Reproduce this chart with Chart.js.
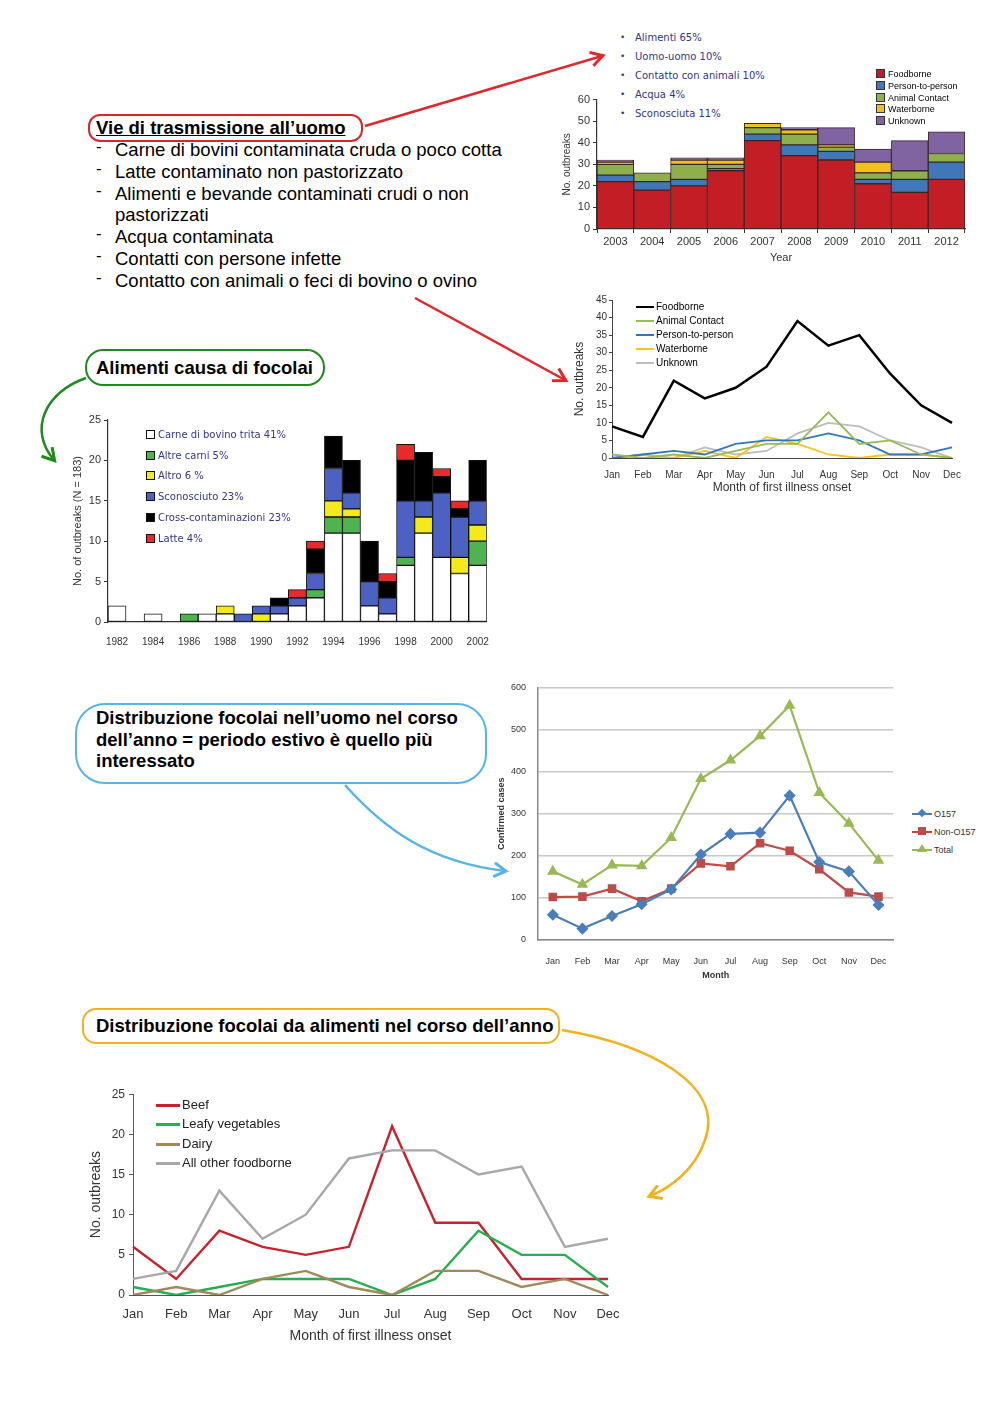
<!DOCTYPE html>
<html>
<head>
<meta charset="utf-8">
<script src="https://cdn.jsdelivr.net/npm/chart.js@4.4.1/dist/chart.umd.min.js"></script>
<style>
  body { margin: 0; width: 1000px; height: 1415px; position: relative; background: #fff; overflow: hidden;
         font-family: "Liberation Sans", Arial, sans-serif; color: #000; }
  .abs { position: absolute; }
  .box { position: absolute; box-sizing: border-box; }
  .head { font-weight: bold; font-size: 18.5px; line-height: 21.5px; white-space: nowrap; }
  .list { font-size: 18.5px; line-height: 21.8px; }
  .list div { position: relative; padding-left: 19px; white-space: nowrap; }
  .list div span.d { position: absolute; left: 0; top: -3px; font-size: 17px; }
  .bul { font-family: "DejaVu Sans", Verdana, sans-serif; font-size: 10px; color: #35358a; line-height: 19px; }
  .bul div { position: relative; padding-left: 15px; }
  .bul div::before { content: "•"; position: absolute; left: 0; font-size: 9px; }
  .leg div { position: relative; white-space: nowrap; }
  .chartbox { position: absolute; }
</style>
</head>
<body>

<!-- callouts and text -->
<div class="box" style="left:88px;top:114px;width:275px;height:28px;border:2.5px solid #d8262a;border-radius:12px;"></div>
<div class="abs head" style="left:96px;top:117px;text-decoration:underline;">Vie di trasmissione all’uomo</div>
<div class="abs list" style="left:96px;top:139px;width:440px;">
  <div><span class="d">-</span>Carne di bovini contaminata cruda o poco cotta</div>
  <div><span class="d">-</span>Latte contaminato non pastorizzato</div>
  <div><span class="d">-</span>Alimenti e bevande contaminati crudi o non</div>
  <div>pastorizzati</div>
  <div><span class="d">-</span>Acqua contaminata</div>
  <div><span class="d">-</span>Contatti con persone infette</div>
  <div><span class="d">-</span>Contatto con animali o feci di bovino o ovino</div>
</div>

<div class="box" style="left:85px;top:349px;width:240px;height:37px;border:2.5px solid #1f8a1f;border-radius:18px;"></div>
<div class="abs head" style="left:96px;top:357px;">Alimenti causa di focolai</div>

<div class="box" style="left:75px;top:703px;width:412px;height:81px;border:2.5px solid #56b4ea;border-radius:30px;"></div>
<div class="abs head" style="left:96px;top:707px;">Distribuzione focolai nell’uomo nel corso<br>dell’anno = periodo estivo è quello più<br>interessato</div>

<div class="box" style="left:82px;top:1008px;width:478px;height:36px;border:2.5px solid #f2b21b;border-radius:14px;"></div>
<div class="abs head" style="left:96px;top:1015px;">Distribuzione focolai da alimenti nel corso dell’anno</div>

<div class="abs bul" style="left:620px;top:28px;">
  <div>Alimenti 65%</div>
  <div>Uomo-uomo 10%</div>
  <div>Contatto con animali 10%</div>
  <div>Acqua 4%</div>
  <div>Sconosciuta 11%</div>
</div>

<!-- charts -->
<div class="chartbox" style="left:555px;top:90px;width:420px;height:175px;"><canvas id="c1"></canvas></div>
<div class="abs leg" id="leg1" style="left:876px;top:69px;font-size:9px;line-height:11.8px;"></div>

<div class="chartbox" style="left:570px;top:290px;width:395px;height:205px;"><canvas id="c2"></canvas></div>
<div class="abs leg" id="leg2" style="left:636px;top:300px;font-size:10px;line-height:14px;"></div>

<div class="chartbox" style="left:65px;top:410px;width:430px;height:240px;"><canvas id="c3"></canvas></div>
<div class="abs leg" id="leg3" style="left:146px;top:425px;font-family:'DejaVu Sans',Verdana,sans-serif;font-size:10px;line-height:20.7px;color:#35358a;"></div>

<div class="chartbox" style="left:490px;top:670px;width:410px;height:315px;"><canvas id="c4"></canvas></div>
<div class="abs leg" id="leg4" style="left:912px;top:805px;font-size:9px;line-height:18px;color:#333;"></div>

<div class="chartbox" style="left:80px;top:1083px;width:545px;height:262px;"><canvas id="c5"></canvas></div>
<div class="abs leg" id="leg5" style="left:156px;top:1095px;font-size:13px;line-height:19.3px;color:#222;"></div>

<!-- arrows -->
<svg class="abs" style="left:0;top:0;" width="1000" height="1415">
  <defs>
    <marker id="hr" markerWidth="16" markerHeight="16" refX="12" refY="8" orient="auto" markerUnits="userSpaceOnUse">
      <path d="M1,1 L13,8 L1,15" fill="none" stroke="#e3262a" stroke-width="3"/></marker>
    <marker id="hg" markerWidth="16" markerHeight="16" refX="12" refY="8" orient="auto" markerUnits="userSpaceOnUse">
      <path d="M1,1 L13,8 L1,15" fill="none" stroke="#1f8a1f" stroke-width="3"/></marker>
    <marker id="hb" markerWidth="16" markerHeight="16" refX="12" refY="8" orient="auto" markerUnits="userSpaceOnUse">
      <path d="M1,1 L13,8 L1,15" fill="none" stroke="#56b4ea" stroke-width="3"/></marker>
    <marker id="ho" markerWidth="16" markerHeight="16" refX="12" refY="8" orient="auto" markerUnits="userSpaceOnUse">
      <path d="M1,1 L13,8 L1,15" fill="none" stroke="#f2b21b" stroke-width="3"/></marker>
  </defs>
  <path d="M365,126 L602,56" stroke="#e3262a" stroke-width="2.5" fill="none" marker-end="url(#hr)"/>
  <path d="M415,298 L565,380" stroke="#e3262a" stroke-width="2.5" fill="none" marker-end="url(#hr)"/>
  <path d="M86,378 C45,392 28,430 54,460" stroke="#1f8a1f" stroke-width="2.5" fill="none" marker-end="url(#hg)"/>
  <path d="M345,785 C385,830 430,862 505,871" stroke="#56b4ea" stroke-width="2.5" fill="none" marker-end="url(#hb)"/>
  <path d="M562,1030 C650,1045 725,1085 705,1140 C695,1170 670,1188 650,1196" stroke="#f2b21b" stroke-width="2.5" fill="none" marker-end="url(#ho)"/>
</svg>

<script>
// ---- chart 1: outbreaks by transmission route and year
const years1 = ['2003', '2004', '2005', '2006', '2007', '2008', '2009', '2010', '2011', '2012'];
const foodborne1 = [22, 18, 20, 27, 41, 34, 32, 21, 17, 23];
const personToPerson1 = [3, 4, 3, 1, 3, 5, 4, 2, 6, 8];
const animalContact1 = [5, 4, 7, 2, 3, 5, 2, 3, 4, 4];
const waterborne1 = [1, 0, 2, 2, 2, 2, 1, 5, 0, 0];
const unknown1 = [1, 0, 1, 1, 0, 1, 8, 6, 14, 10];
const yTicks1 = [0, 10, 20, 30, 40, 50, 60];

// ---- chart 2: outbreaks by month and route
const months = ['Jan', 'Feb', 'Mar', 'Apr', 'May', 'Jun', 'Jul', 'Aug', 'Sep', 'Oct', 'Nov', 'Dec'];
const foodborne2 = [9, 6, 22, 17, 20, 26, 39, 32, 35, 24, 15, 10];
const animalContact2 = [1, 0, 1, 0, 2, 4, 4, 13, 4, 5, 1, 0];
const personToPerson2 = [0, 1, 2, 1, 4, 5, 5, 7, 5, 1, 1, 3];
const waterborne2 = [0, 0, 0, 2, 0, 6, 4, 1, 0, 1, 1, 0];
const unknown2 = [0, 1, 0, 3, 1, 2, 7, 10, 9, 5, 3, 0];

// ---- chart 3: food vehicles 1982-2002
const years3 = ['1982', '1983', '1984', '1985', '1986', '1987', '1988', '1989', '1990', '1991', '1992',
                '1993', '1994', '1995', '1996', '1997', '1998', '1999', '2000', '2001', '2002'];
const carneTrita3 = [2, 0, 1, 0, 0, 1, 1, 0, 0, 1, 2, 3, 11, 11, 2, 1, 7, 11, 8, 6, 7];
const altreCarni3 = [0, 0, 0, 0, 1, 0, 0, 0, 0, 0, 0, 1, 2, 2, 0, 0, 1, 0, 0, 0, 3];
const altro3 = [0, 0, 0, 0, 0, 0, 1, 0, 1, 0, 0, 0, 2, 1, 0, 0, 0, 2, 0, 2, 2];
const sconosciuto3 = [0, 0, 0, 0, 0, 0, 0, 1, 1, 1, 1, 2, 4, 2, 3, 2, 7, 2, 8, 5, 3];
const cross3 = [0, 0, 0, 0, 0, 0, 0, 0, 0, 1, 0, 3, 4, 4, 5, 2, 5, 6, 2, 1, 5];
const latte3 = [0, 0, 0, 0, 0, 0, 0, 0, 0, 0, 1, 1, 0, 0, 0, 1, 2, 0, 1, 1, 0];

// ---- chart 4: confirmed cases by month
const o157 = [60, 27, 57, 85, 120, 203, 252, 255, 343, 185, 163, 83];
const nonO157 = [102, 103, 122, 92, 122, 182, 175, 230, 212, 168, 113, 103];
const total4 = [163, 132, 178, 176, 243, 383, 427, 485, 557, 350, 277, 189];

// ---- chart 5: foodborne outbreaks by food and month
const beef5 = [6, 2, 8, 6, 5, 6, 21, 9, 9, 2, 2, 2];
const leafy5 = [1, 0, 1, 2, 2, 2, 0, 2, 8, 5, 5, 1];
const dairy5 = [0, 1, 0, 2, 3, 1, 0, 3, 3, 1, 2, 0];
const otherFood5 = [2, 3, 13, 7, 10, 17, 18, 18, 15, 16, 6, 7];

Chart.defaults.animation = false;
Chart.defaults.font.family = '"Liberation Sans", Arial, sans-serif';
Chart.defaults.color = '#222';
Chart.defaults.plugins.legend.display = false;
Chart.defaults.plugins.tooltip.enabled = false;

const noZero = arr => arr.map(v => v === 0 ? null : v);
const fixW = w => s => { s.width = w; };
const fixH = h => s => { s.height = h; };

// simple html legends
const boxLegend = (id, items, border) => {
  document.getElementById(id).innerHTML = items.map(([label, color]) =>
    `<div><span style="display:inline-block;width:7px;height:7px;background:${color};border:1px solid ${border};margin-right:3px;vertical-align:-1px"></span>${label}</div>`
  ).join('');
};
const lineLegend = (id, items, w, lw) => {
  document.getElementById(id).innerHTML = items.map(([label, color]) =>
    `<div><span style="display:inline-block;width:${w}px;height:${lw}px;background:${color};margin-right:2px;vertical-align:middle"></span>${label}</div>`
  ).join('');
};

// chart 1
const c1Colors = ['#c31e26', '#3f77b9', '#8db04c', '#f2c01c', '#8064a2'];
const c1Labels = ['Foodborne', 'Person-to-person', 'Animal Contact', 'Waterborne', 'Unknown'];
const c1Data = [foodborne1, personToPerson1, animalContact1, waterborne1, unknown1];
new Chart(document.getElementById('c1'), {
  type: 'bar',
  data: {
    labels: years1,
    datasets: c1Data.map((d, i) => ({
      label: c1Labels[i], data: noZero(d), backgroundColor: c1Colors[i],
      borderColor: '#3a2626', borderWidth: 1, borderSkipped: false,
      categoryPercentage: 1, barPercentage: 1
    }))
  },
  options: {
    responsive: true, maintainAspectRatio: false,
    layout: { padding: { top: 7, right: 10, bottom: 0, left: 0 } },
    scales: {
      x: { stacked: true, afterFit: fixH(36),
           grid: { display: true, drawOnChartArea: false, tickLength: 4, color: '#333' },
           border: { color: '#333', width: 1.2 },
           ticks: { font: { size: 11 }, color: '#333', padding: 2 },
           title: { display: true, text: 'Year', font: { size: 11 }, color: '#333', padding: 0 } },
      y: { stacked: true, min: 0, max: 60, afterFit: fixW(42),
           afterBuildTicks: s => { s.ticks = yTicks1.map(v => ({ value: v })); },
           grid: { display: true, drawOnChartArea: false, tickLength: 4, color: '#333' },
           border: { color: '#333', width: 1.2 },
           ticks: { font: { size: 11 }, color: '#333', padding: 3 },
           title: { display: true, text: 'No. outbreaks', font: { size: 10 }, color: '#333', padding: { top: 6 } } }
    }
  }
});
boxLegend('leg1', c1Labels.map((l, i) => [l, c1Colors[i]]), '#333');

// chart 2
const c2Labels = ['Foodborne', 'Animal Contact', 'Person-to-person', 'Waterborne', 'Unknown'];
const c2Colors = ['#000000', '#98bb5a', '#2f78bd', '#ffc21a', '#bdbdbd'];
const c2Widths = [2.5, 1.8, 1.8, 1.8, 1.8];
const c2Data = [foodborne2, animalContact2, personToPerson2, waterborne2, unknown2];
new Chart(document.getElementById('c2'), {
  type: 'line',
  data: {
    labels: months,
    datasets: c2Data.map((d, i) => ({
      label: c2Labels[i], data: d, borderColor: c2Colors[i], borderWidth: c2Widths[i],
      pointRadius: 0, tension: 0, order: i === 0 ? 0 : 1
    }))
  },
  options: {
    responsive: true, maintainAspectRatio: false,
    layout: { padding: { top: 10, right: 13, bottom: 0, left: 0 } },
    scales: {
      x: { offset: false, afterFit: fixH(37),
           grid: { display: false }, border: { color: '#444', width: 1 },
           ticks: { font: { size: 10 }, color: '#333', padding: 3, autoSkip: false, maxRotation: 0 },
           title: { display: true, text: 'Month of first illness onset', font: { size: 12 }, color: '#333', padding: 0 } },
      y: { min: 0, max: 45, afterFit: fixW(42),
           grid: { display: true, drawOnChartArea: false, tickLength: 3, color: '#444' },
           border: { color: '#444', width: 1 },
           ticks: { stepSize: 5, font: { size: 10 }, color: '#333', padding: 2 },
           title: { display: true, text: 'No. outbreaks', font: { size: 12 }, color: '#333', padding: { top: 2 } } }
    }
  }
});
lineLegend('leg2', c2Labels.map((l, i) => [l, c2Colors[i]]), 18, 2);

// chart 3
const c3Labels = ['Carne di bovino trita 41%', 'Altre carni 5%', 'Altro 6 %', 'Sconosciuto 23%', 'Cross-contaminazioni 23%', 'Latte 4%'];
const c3Colors = ['#ffffff', '#4fb34f', '#f4ea1a', '#4b62c2', '#000000', '#e92a2a'];
const c3Data = [carneTrita3, altreCarni3, altro3, sconosciuto3, cross3, latte3];
new Chart(document.getElementById('c3'), {
  type: 'bar',
  data: {
    labels: years3,
    datasets: c3Data.map((d, i) => ({
      label: c3Labels[i], data: noZero(d), backgroundColor: c3Colors[i],
      borderColor: '#111', borderWidth: 1, borderSkipped: false,
      categoryPercentage: 1, barPercentage: 1
    }))
  },
  options: {
    responsive: true, maintainAspectRatio: false,
    layout: { padding: { top: 10, right: 7, bottom: 0, left: 0 } },
    scales: {
      x: { stacked: true, afterFit: fixH(28),
           grid: { display: false }, border: { color: '#333', width: 1.2 },
           ticks: { font: { size: 10 }, color: '#333', padding: 6, autoSkip: false, maxRotation: 0,
                    callback: function (v, i) { return i % 2 === 0 ? this.getLabelForValue(v) : ''; } } },
      y: { stacked: true, min: 0, max: 25, afterFit: fixW(43),
           grid: { display: true, drawOnChartArea: false, tickLength: 4, color: '#333' },
           border: { color: '#333', width: 1.2 },
           ticks: { stepSize: 5, font: { size: 11 }, color: '#333', padding: 3 },
           title: { display: true, text: 'No. of outbreaks (N = 183)', font: { size: 11 }, color: '#333', padding: { top: 6 } } }
    }
  }
});
boxLegend('leg3', c3Labels.map((l, i) => [l, c3Colors[i]]), '#111');

// chart 4
const c4Labels = ['O157', 'Non-O157', 'Total'];
const c4Colors = ['#4a7ebb', '#be4b48', '#98b954'];
const c4Points = ['rectRot', 'rect', 'triangle'];
const c4Radius = [4.5, 4.5, 4.5];
const c4Data = [o157, nonO157, total4];
new Chart(document.getElementById('c4'), {
  type: 'line',
  data: {
    labels: months,
    datasets: c4Data.map((d, i) => ({
      label: c4Labels[i], data: d, borderColor: c4Colors[i], backgroundColor: c4Colors[i],
      borderWidth: 2.2, pointStyle: c4Points[i], pointRadius: c4Radius[i], tension: 0
    }))
  },
  options: {
    responsive: true, maintainAspectRatio: false,
    layout: { padding: { top: 8, right: 5, bottom: 0, left: 0 } },
    scales: {
      x: { offset: true, afterFit: fixH(45),
           grid: { display: false }, border: { color: '#888', width: 1.5 },
           ticks: { font: { size: 9 }, color: '#333', padding: 8, autoSkip: false, maxRotation: 0 },
           title: { display: true, text: 'Month', font: { size: 9, weight: 'bold' }, color: '#333', padding: { top: 6 } } },
      y: { min: 0, max: 600, afterFit: fixW(48),
           grid: { color: '#c8c8c8', lineWidth: 1.4, drawTicks: false },
           border: { color: '#888', width: 1.5 },
           ticks: { stepSize: 100, font: { size: 9 }, color: '#333', padding: 12 },
           title: { display: true, text: 'Confirmed cases', font: { size: 9, weight: 'bold' }, color: '#333', padding: { top: 6 } } }
    }
  }
});
document.getElementById('leg4').innerHTML = c4Labels.map((l, i) => {
  const shape = c4Points[i] === 'rectRot'
    ? `<span style="position:absolute;left:7px;top:5px;width:6px;height:6px;background:${c4Colors[i]};transform:rotate(45deg)"></span>`
    : c4Points[i] === 'rect'
      ? `<span style="position:absolute;left:6px;top:4px;width:8px;height:8px;background:${c4Colors[i]}"></span>`
      : `<span style="position:absolute;left:5px;top:3px;width:0;height:0;border-left:5px solid transparent;border-right:5px solid transparent;border-bottom:8px solid ${c4Colors[i]}"></span>`;
  return `<div style="padding-left:22px"><span style="position:absolute;left:0;top:8px;width:20px;height:2px;background:${c4Colors[i]}"></span>${shape}${l}</div>`;
}).join('');

// chart 5
const c5Labels = ['Beef', 'Leafy vegetables', 'Dairy', 'All other foodborne'];
const c5Colors = ['#c8222c', '#22b14c', '#a08a5c', '#a8a8a8'];
const c5Data = [beef5, leafy5, dairy5, otherFood5];
new Chart(document.getElementById('c5'), {
  type: 'line',
  data: {
    labels: months,
    datasets: c5Data.map((d, i) => ({
      label: c5Labels[i], data: d, borderColor: c5Colors[i], borderWidth: 2.4,
      pointRadius: 0, tension: 0, order: 3 - i
    }))
  },
  options: {
    responsive: true, maintainAspectRatio: false,
    layout: { padding: { top: 10, right: 17, bottom: 0, left: 0 } },
    scales: {
      x: { offset: false, afterFit: fixH(50),
           grid: { display: false }, border: { color: '#555', width: 1 },
           ticks: { font: { size: 13 }, color: '#333', padding: 4, autoSkip: false, maxRotation: 0 },
           title: { display: true, text: 'Month of first illness onset', font: { size: 14 }, color: '#333', padding: 0 } },
      y: { min: 0, max: 25, afterFit: fixW(53),
           grid: { display: true, drawOnChartArea: false, tickLength: 4, color: '#555' },
           border: { color: '#555', width: 1 },
           ticks: { stepSize: 5, font: { size: 12 }, color: '#333', padding: 4 },
           title: { display: true, text: 'No. outbreaks', font: { size: 14 }, color: '#333', padding: { top: 8 } } }
    }
  }
});
lineLegend('leg5', c5Labels.map((l, i) => [l, c5Colors[i]]), 24, 3);
</script>
</body>
</html>
